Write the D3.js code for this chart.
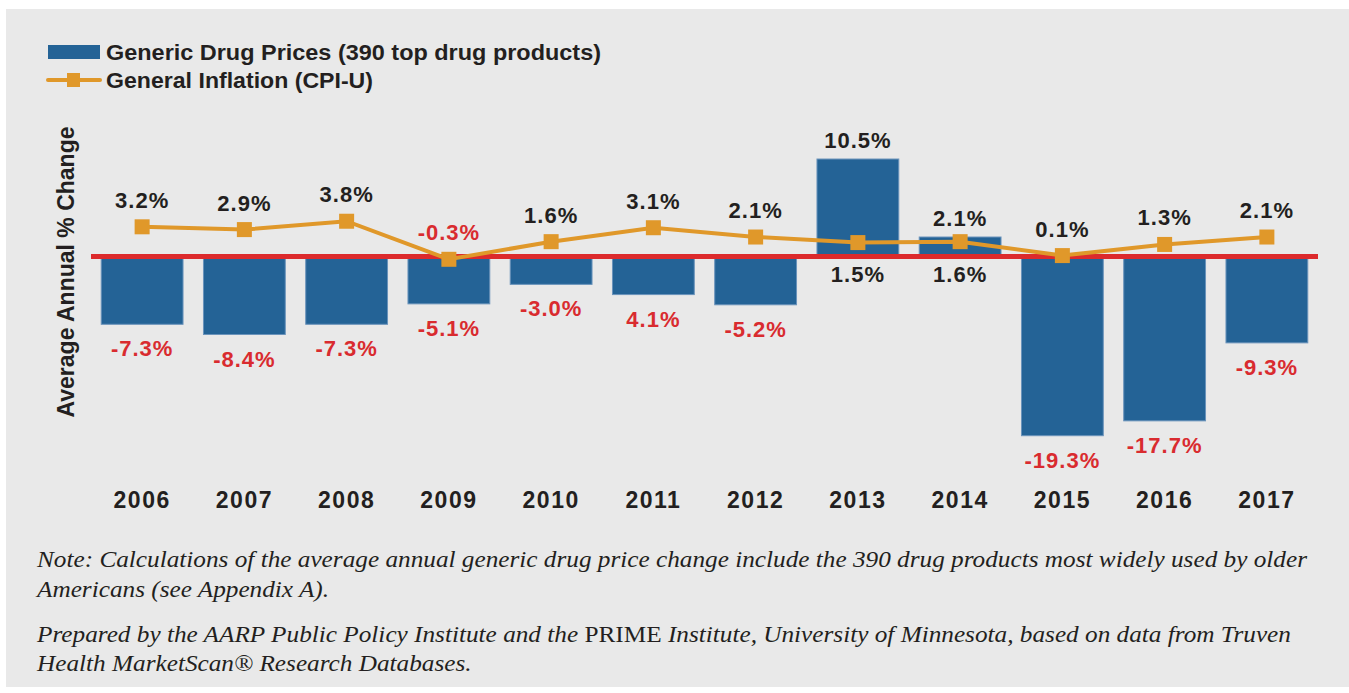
<!DOCTYPE html>
<html>
<head>
<meta charset="utf-8">
<script src="https://cdn.jsdelivr.net/npm/d3@7"></script>
<style>
  html, body { margin: 0; padding: 0; background: #ffffff; }
  svg { display: block; }
</style>
</head>
<body>
<div id="chart"></div>
<script>
// chart data
var years = ["2006", "2007", "2008", "2009", "2010", "2011", "2012", "2013", "2014", "2015", "2016", "2017"];
var genericChange = [-7.3, -8.4, -7.3, -5.1, -3.0, -4.1, -5.2, 10.5, 2.1, -19.3, -17.7, -9.3];
var genericLabels = ["-7.3%", "-8.4%", "-7.3%", "-5.1%", "-3.0%", "4.1%", "-5.2%", "10.5%", "2.1%", "-19.3%", "-17.7%", "-9.3%"];
var cpiChange = [3.2, 2.9, 3.8, -0.3, 1.6, 3.1, 2.1, 1.5, 1.6, 0.1, 1.3, 2.1];
var legendNames = ["Generic Drug Prices (390 top drug products)", "General Inflation (CPI-U)"];
var yTitle = "Average Annual % Change";
var noteLines = [
  "Note: Calculations of the average annual generic drug price change include the 390 drug products most widely used by older",
  "Americans (see Appendix A)."
];
var sourceLines = [
  ["Prepared by the AARP Public Policy Institute and the ", "PRIME", " Institute, University of Minnesota, based on data from Truven"],
  ["Health MarketScan\u00AE Research Databases."]
];

var svgWidth = 1349;
var svgHeight = 693;

var barColor = "#246396";
var lineColor = "#e0982a";
var redColor = "#d92b2f";
var textColor = "#231f20";
var sans = "'Liberation Sans', Arial, sans-serif";
var serif = "'Liberation Serif', 'Times New Roman', serif";

var svg = d3.select("#chart")
    .append("svg")
    .attr("width", svgWidth)
    .attr("height", svgHeight);

// gray panel
svg.append("rect")
    .attr("x", 6)
    .attr("y", 9)
    .attr("width", svgWidth - 6)
    .attr("height", 678)
    .attr("fill", "#e9e9e9");

// scales
var x = d3.scaleBand()
    .domain(years)
    .range([91, 1318])
    .paddingInner(0.2)
    .paddingOuter(0.1);

var y = d3.scaleLinear()
    .domain([-20, 12])
    .range([442.2, 145.1]);

var data = years.map(function(yr, i) {
  return { year: yr, bar: genericChange[i], barLabel: genericLabels[i], cpi: cpiChange[i] };
});

// bars
svg.selectAll("rect.bar")
    .data(data)
    .enter()
    .append("rect")
    .attr("class", "bar")
    .attr("x", d => x(d.year))
    .attr("y", d => y(Math.max(0, d.bar)))
    .attr("width", x.bandwidth())
    .attr("height", d => Math.abs(y(d.bar) - y(0)))
    .attr("fill", barColor)
    .attr("stroke", "#6a93bb")
    .attr("stroke-width", 1);

// zero line
svg.append("line")
    .attr("x1", 91)
    .attr("x2", 1318)
    .attr("y1", y(0))
    .attr("y2", y(0))
    .attr("stroke", "#dc2a2c")
    .attr("stroke-width", 5);

// inflation line
var line = d3.line()
    .x(d => x(d.year) + x.bandwidth() / 2)
    .y(d => y(d.cpi));

svg.append("path")
    .datum(data)
    .attr("d", line)
    .attr("fill", "none")
    .attr("stroke", lineColor)
    .attr("stroke-width", 4);

svg.selectAll("rect.marker")
    .data(data)
    .enter()
    .append("rect")
    .attr("class", "marker")
    .attr("x", d => x(d.year) + x.bandwidth() / 2 - 7.5)
    .attr("y", d => y(d.cpi) - 7.5)
    .attr("width", 15)
    .attr("height", 15)
    .attr("fill", lineColor);

// bar labels
svg.selectAll("text.barLabel")
    .data(data)
    .enter()
    .append("text")
    .attr("class", "barLabel")
    .attr("x", d => x(d.year) + x.bandwidth() / 2)
    .attr("y", d => d.bar > 0 ? y(d.bar) - 11 : y(d.bar) + 32)
    .attr("text-anchor", "middle")
    .attr("font-family", sans)
    .attr("font-weight", "bold")
    .attr("font-size", "22px")
    .attr("letter-spacing", "1px")
    .attr("fill", d => d.bar < 0 ? redColor : textColor)
    .text(d => d.barLabel);

// inflation labels
svg.selectAll("text.cpiLabel")
    .data(data)
    .enter()
    .append("text")
    .attr("class", "cpiLabel")
    .attr("x", d => x(d.year) + x.bandwidth() / 2)
    .attr("y", d => d.bar > 0 ? y(0) + 25 : y(d.cpi) - 19)
    .attr("text-anchor", "middle")
    .attr("font-family", sans)
    .attr("font-weight", "bold")
    .attr("font-size", "22px")
    .attr("letter-spacing", "1px")
    .attr("fill", d => d.cpi < 0 ? redColor : textColor)
    .text(d => d.cpi.toFixed(1) + "%");

// x axis (years)
var xAxis = d3.axisBottom(x).tickSize(0).tickPadding(0);
var xg = svg.append("g")
    .attr("transform", "translate(0, 492)")
    .call(xAxis);
xg.select(".domain").remove();
xg.selectAll("text")
    .attr("font-family", sans)
    .attr("font-weight", "bold")
    .attr("font-size", "23px")
    .attr("letter-spacing", "1.5px")
    .attr("fill", textColor);

// y axis title
svg.append("text")
    .attr("transform", "translate(74, 272) rotate(-90)")
    .attr("text-anchor", "middle")
    .attr("font-family", sans)
    .attr("font-weight", "bold")
    .attr("font-size", "23px")
    .attr("textLength", 291)
    .attr("lengthAdjust", "spacingAndGlyphs")
    .attr("fill", textColor)
    .text(yTitle);

// legend
var legend = svg.append("g");
legend.append("rect")
    .attr("x", 48)
    .attr("y", 45)
    .attr("width", 52)
    .attr("height", 14)
    .attr("fill", barColor);
legend.append("line")
    .attr("x1", 48)
    .attr("x2", 100)
    .attr("y1", 80)
    .attr("y2", 80)
    .attr("stroke", lineColor)
    .attr("stroke-width", 4)
    .attr("stroke-linecap", "round");
legend.append("rect")
    .attr("x", 67)
    .attr("y", 73)
    .attr("width", 13)
    .attr("height", 14)
    .attr("fill", lineColor);
var legendWidths = [495, 267];
legend.selectAll("text")
    .data(legendNames)
    .enter()
    .append("text")
    .attr("x", 106)
    .attr("y", (d, i) => 60 + i * 28)
    .attr("font-family", "'Liberation Sans Narrow', " + sans)
    .attr("font-weight", "bold")
    .attr("font-size", "22px")
    .attr("textLength", (d, i) => legendWidths[i])
    .attr("lengthAdjust", "spacingAndGlyphs")
    .attr("fill", textColor)
    .text(d => d);

// notes
var notes = svg.append("g")
    .attr("font-family", serif)
    .attr("font-style", "italic")
    .attr("font-size", "24px")
    .attr("fill", textColor);

var noteBaselines = [567, 597, 642, 671];
var allLines = noteLines.map(t => [t]).concat(sourceLines);
var noteTexts = notes.selectAll("text")
    .data(allLines)
    .enter()
    .append("text")
    .attr("x", 37)
    .attr("y", (d, i) => noteBaselines[i]);

noteTexts.selectAll("tspan")
    .data(d => d)
    .enter()
    .append("tspan")
    .attr("font-style", t => t === "PRIME" ? "normal" : null)
    .text(t => t);

// squeeze the notes so the first line matches the reference width
var firstWidth = noteTexts.node().getComputedTextLength();
var k = 1270 / firstWidth;
noteTexts.each(function() {
  var w = this.getComputedTextLength();
  d3.select(this)
      .attr("textLength", w * k)
      .attr("lengthAdjust", "spacingAndGlyphs");
});
</script>
</body>
</html>
